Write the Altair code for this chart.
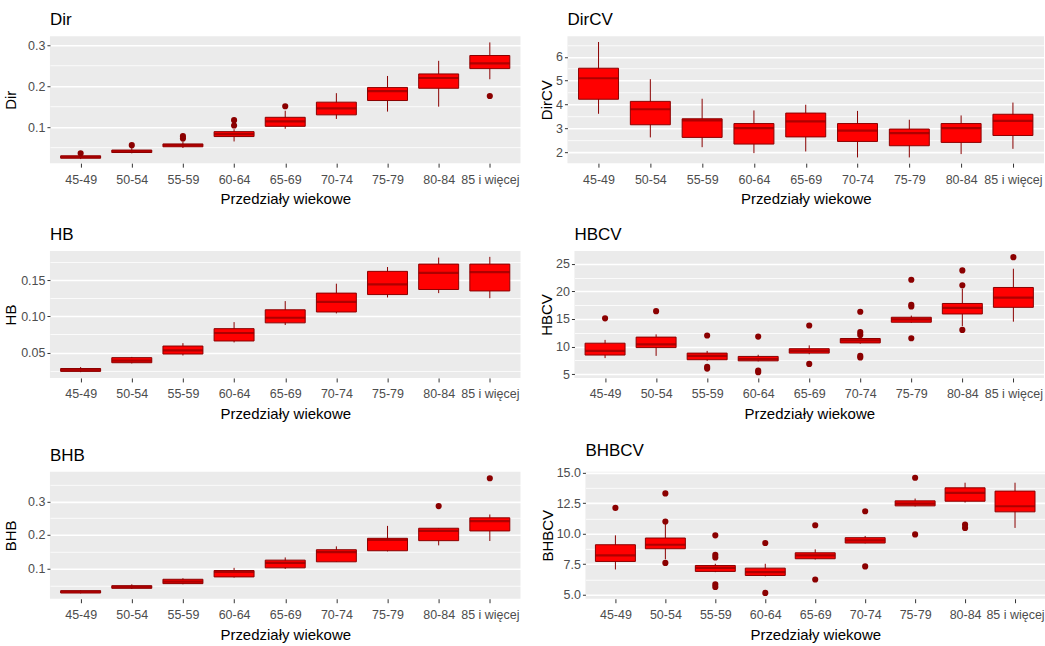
import altair as alt
import pandas as pd

# Age groups shared by every panel
ages = ["45-49", "50-54", "55-59", "60-64", "65-69", "70-74", "75-79", "80-84", "85 i więcej"]

# ---- Dir ----
dir_lo = [0.022, 0.036, 0.049, 0.065, 0.096, 0.120, 0.138, 0.150, 0.217]
dir_q1 = [0.024, 0.038, 0.052, 0.077, 0.102, 0.130, 0.165, 0.195, 0.243]
dir_med = [0.027, 0.041, 0.056, 0.083, 0.114, 0.146, 0.188, 0.220, 0.256]
dir_q3 = [0.030, 0.044, 0.059, 0.089, 0.124, 0.161, 0.197, 0.230, 0.275]
dir_hi = [0.033, 0.049, 0.064, 0.095, 0.140, 0.183, 0.225, 0.262, 0.307]
dir_out = [[0.036], [0.056], [0.072, 0.078], [0.104, 0.117], [0.151], [], [], [], [0.176]]

# ---- DirCV ----
dircv_lo = [3.61, 2.62, 2.21, 1.96, 2.03, 1.78, 1.78, 1.92, 2.14]
dircv_q1 = [4.22, 3.15, 2.62, 2.34, 2.64, 2.45, 2.27, 2.41, 2.70]
dircv_med = [5.10, 3.80, 3.33, 3.01, 3.29, 2.90, 2.80, 3.01, 3.31]
dircv_q3 = [5.52, 4.13, 3.40, 3.20, 3.64, 3.20, 2.97, 3.20, 3.59]
dircv_hi = [6.62, 5.06, 4.24, 3.75, 3.99, 3.73, 3.36, 3.54, 4.08]
dircv_out = [[], [], [], [], [], [], [], [], []]

# ---- HB ----
hb_lo = [0.023, 0.035, 0.046, 0.064, 0.088, 0.104, 0.126, 0.132, 0.125]
hb_q1 = [0.024, 0.036, 0.048, 0.066, 0.091, 0.106, 0.130, 0.137, 0.135]
hb_med = [0.026, 0.039, 0.053, 0.077, 0.098, 0.120, 0.144, 0.160, 0.161]
hb_q3 = [0.028, 0.043, 0.059, 0.083, 0.109, 0.132, 0.162, 0.172, 0.172]
hb_hi = [0.030, 0.044, 0.063, 0.092, 0.121, 0.145, 0.168, 0.181, 0.182]
hb_out = [[], [], [], [], [], [], [], [], []]

# ---- HBCV ----
hbcv_lo = [7.9, 8.3, 7.4, 7.3, 8.6, 10.5, 14.3, 13.7, 14.5]
hbcv_q1 = [8.45, 9.8, 7.6, 7.4, 8.8, 10.65, 14.4, 15.9, 17.1]
hbcv_med = [9.2, 10.4, 8.3, 7.7, 9.2, 11.1, 14.9, 17.0, 18.85]
hbcv_q3 = [10.6, 11.7, 8.8, 8.2, 9.6, 11.45, 15.3, 17.8, 20.7]
hbcv_hi = [11.2, 12.2, 9.2, 8.5, 10.2, 11.8, 15.6, 20.5, 24.1]
hbcv_out = [[15.1], [16.4], [12.0, 6.3, 6.0], [11.8, 5.65, 5.35], [13.8, 6.85],
            [16.3, 12.6, 12.1, 8.3, 8.0], [22.1, 17.55, 17.25, 11.5],
            [23.8, 21.1, 13.0], [26.2]]

# ---- BHB ----
bhb_lo = [0.026, 0.039, 0.053, 0.073, 0.099, 0.120, 0.151, 0.169, 0.182]
bhb_q1 = [0.027, 0.041, 0.055, 0.075, 0.102, 0.120, 0.153, 0.183, 0.212]
bhb_med = [0.031, 0.045, 0.061, 0.090, 0.117, 0.149, 0.185, 0.212, 0.241]
bhb_q3 = [0.034, 0.049, 0.068, 0.094, 0.125, 0.156, 0.190, 0.220, 0.251]
bhb_hi = [0.035, 0.053, 0.071, 0.102, 0.133, 0.166, 0.227, 0.220, 0.261]
bhb_out = [[], [], [], [], [], [], [], [0.286], [0.369]]

# ---- BHBCV ----
bhbcv_lo = [7.06, 7.9, 6.84, 6.5, 7.88, 9.2, 12.23, 12.55, 10.47]
bhbcv_q1 = [7.72, 8.76, 6.90, 6.57, 7.94, 9.23, 12.28, 12.66, 11.79]
bhbcv_med = [8.21, 9.09, 7.20, 6.84, 8.21, 9.45, 12.47, 13.35, 12.25]
bhbcv_q3 = [9.09, 9.64, 7.39, 7.17, 8.43, 9.67, 12.69, 13.76, 13.49]
bhbcv_hi = [9.86, 10.8, 7.53, 7.53, 8.71, 9.81, 12.88, 14.18, 14.18]
bhbcv_out = [[12.12], [13.3, 11.0, 7.6], [9.86, 8.27, 8.05, 5.85, 5.63], [9.23, 5.14],
             [10.69, 6.24], [11.84, 7.31], [14.59, 9.94], [10.74, 10.47], []]

RED = "#FF0000"
DARK = "#8B0000"
FONT = "Liberation Sans"
BOX_PX = 40
PLOT_H = 127
LABEL_SIZE = 12.5


def js_list(vals):
    return "[" + ",".join(repr(v) for v in vals) + "]"


def panel(name, lo, q1, med, q3, hi, outliers, domain, majors, minors, fmt, width,
          extent=None):
    stats = pd.DataFrame({"age": ages, "lo": lo, "q1": q1, "med": med, "q3": q3, "hi": hi})
    out_rows = [(a, v) for a, vals in zip(ages, outliers) for v in vals]
    outs = pd.DataFrame(out_rows, columns=["age", "value"])

    is_major = f"indexof({js_list(majors)}, datum.value) >= 0"
    extent_opts = ({"minExtent": extent, "maxExtent": extent} if extent is not None
                   else {"minExtent": 0})
    y_axis = alt.Axis(
        values=sorted(majors + minors),
        labelExpr=f"{is_major} ? format(datum.value, '{fmt}') : ''",
        gridColor="white",
        gridWidth={"condition": {"test": is_major, "value": 1.6}, "value": 0.8},
        tickOpacity={"condition": {"test": is_major, "value": 1}, "value": 0},
        tickColor="#333333",
        tickSize=3,
        labelPadding=2,
        labelFontSize=LABEL_SIZE,
        labelColor="#4D4D4D",
        domain=False,
        title=name,
        titleFontSize=15,
        titleFontWeight="normal",
        titleColor="black",
        titlePadding=1,
        **extent_opts,
    )
    x_axis = alt.Axis(
        labelAngle=0,
        labelFontSize=LABEL_SIZE,
        labelColor="#4D4D4D",
        labelPadding=6,
        tickColor="#333333",
        tickSize=4,
        gridColor="white",
        gridWidth=1.6,
        domain=False,
        title="Przedziały wiekowe",
        titleFontSize=15,
        titleFontWeight="normal",
        titleColor="black",
        titlePadding=6,
    )
    x = alt.X("age:N", sort=ages, scale=alt.Scale(type="point", padding=0.6), axis=x_axis)
    yscale = alt.Scale(domain=domain, nice=False, zero=False)

    def y(field):
        return alt.Y(f"{field}:Q", scale=yscale, axis=y_axis, title=name)

    base = alt.Chart(stats)
    whiskers = base.mark_rule(color=DARK, strokeWidth=1).encode(x=x, y=y("lo"), y2="hi:Q")
    boxes = base.mark_bar(size=BOX_PX, color=RED, stroke=DARK, strokeWidth=1).encode(
        x=x, y=y("q1"), y2="q3:Q")
    medians = base.mark_tick(size=BOX_PX, thickness=2.2, color=DARK).encode(x=x, y=y("med"))
    points = alt.Chart(outs).mark_circle(size=38, color=DARK, opacity=1).encode(
        x=x, y=y("value"))

    return alt.layer(whiskers, boxes, medians, points).properties(
        width=width,
        height=PLOT_H,
        title=alt.TitleParams(name, anchor="start", frame="group", fontSize=17,
                              fontWeight="normal", color="black", offset=7, font=FONT),
    )


LEFT_EXTENT = 30

p_dir = panel("Dir", dir_lo, dir_q1, dir_med, dir_q3, dir_hi, dir_out,
              [0.012, 0.322], [0.1, 0.2, 0.3], [0.05, 0.15, 0.25], ".1f", 471,
              LEFT_EXTENT)
p_dircv = panel("DirCV", dircv_lo, dircv_q1, dircv_med, dircv_q3, dircv_hi, dircv_out,
                [1.54, 6.86], [2, 3, 4, 5, 6], [2.5, 3.5, 4.5, 5.5, 6.5], "d", 477)
p_hb = panel("HB", hb_lo, hb_q1, hb_med, hb_q3, hb_hi, hb_out,
             [0.015, 0.190], [0.05, 0.10, 0.15], [0.025, 0.075, 0.125, 0.175], ".2f", 471,
             LEFT_EXTENT)
p_hbcv = panel("HBCV", hbcv_lo, hbcv_q1, hbcv_med, hbcv_q3, hbcv_hi, hbcv_out,
               [4.3, 27.3], [5, 10, 15, 20, 25], [7.5, 12.5, 17.5, 22.5], "d", 470)
p_bhb = panel("BHB", bhb_lo, bhb_q1, bhb_med, bhb_q3, bhb_hi, bhb_out,
              [0.010, 0.388], [0.1, 0.2, 0.3], [0.05, 0.15, 0.25, 0.35], ".1f", 471,
              LEFT_EXTENT)
p_bhbcv = panel("BHBCV", bhbcv_lo, bhbcv_q1, bhbcv_med, bhbcv_q3, bhbcv_hi, bhbcv_out,
                [4.66, 15.07], [5.0, 7.5, 10.0, 12.5, 15.0], [6.25, 8.75, 11.25, 13.75],
                ".1f", 460)

rows = [
    alt.hconcat(p_dir, p_dircv, spacing=19),
    alt.hconcat(p_hb, p_hbcv, spacing=19),
    alt.hconcat(p_bhb, p_bhbcv, spacing=19),
]

chart = (
    alt.vconcat(*rows, spacing=19)
    .properties(padding={"left": 4, "top": 11, "right": 0, "bottom": 0}, background="white")
    .configure(font=FONT)
    .configure_view(fill="#EBEBEB", strokeWidth=0)
)

chart.save("out.html", embed_options={"renderer": "svg", "actions": False})
